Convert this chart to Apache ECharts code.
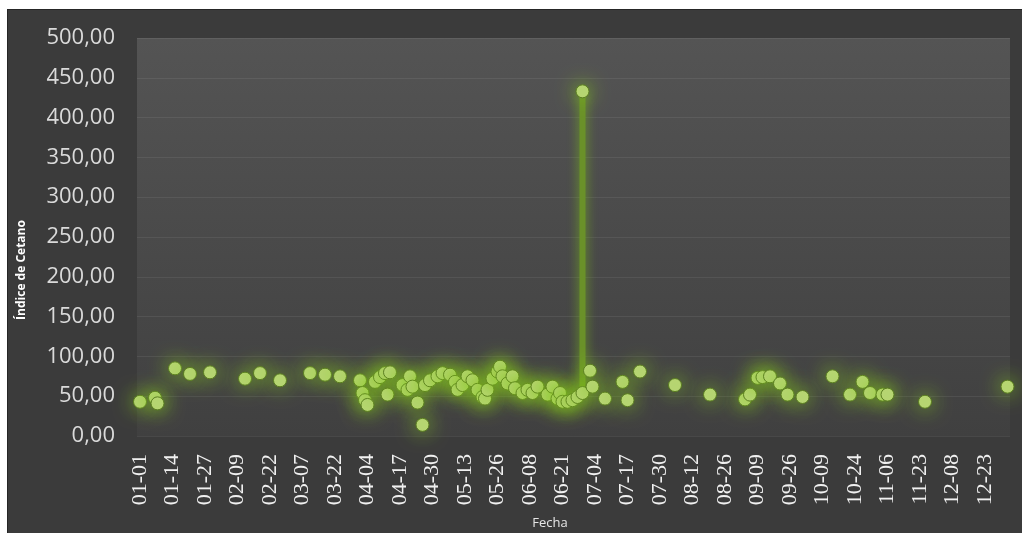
<!DOCTYPE html>
<html>
<head>
<meta charset="utf-8">
<script src="https://cdn.jsdelivr.net/npm/echarts@6/dist/echarts.min.js"></script>
<style>
  html, body { margin: 0; padding: 0; background: #ffffff; width: 1022px; height: 533px; overflow: hidden; }
  #marco {
    position: absolute; left: 7px; top: 9px; width: 1015px; height: 524px;
    box-sizing: border-box; border-top: 1px solid #262626; border-left: 1px solid #262626;
    background: #3b3b3b;
  }
  #grafico { width: 1014px; height: 523px; }
</style>
</head>
<body>
<div id="marco"><div id="grafico"></div></div>
<script>
// Etiquetas de fecha del eje X (una cada 13 muestras)
const etiquetasFecha = ['01-01','01-14','01-27','02-09','02-22','03-07','03-22','04-04','04-17','04-30',
  '05-13','05-26','06-08','06-21','07-04','07-17','07-30','08-12','08-26','09-09','09-26','10-09',
  '10-24','11-06','11-23','12-08','12-23'];
const pasoEtiqueta = 13;

// Posición de cada medición a lo largo del eje (número de muestra)
const posicion = [0,6,7,14,20,28,42,48,56,68,74,80,88,89,90,91,94,96,98,99,100,105,107,108,109,111,113,
  114,116,119,121,124,126,127,129,131,133,135,137,138,139,141,143,144,145,147,149,150,153,155,157,159,
  163,165,167,168,169,171,173,175,177,177,180,181,186,193,195,200,214,228,242,244,247,249,252,256,259,
  265,277,284,289,292,297,299,314,347];

// Índice de cetano medido
const indiceCetano = [43,48,41,85,78,80,72,79,70,79,77,75,70,54,45,39,68,74,79,52,80,64,58,75,62,42,14,
  64,70,75,79,77,68,58,64,75,70,58,49,47,58,72,81,87,75,66,75,60,54,58,54,62,
  52,62,47,54,43,43,45,49,54,433,82,62,47,68,45,81,64,52,46,52,73,74,75,66,52,
  49,75,52,68,54,52,52,43,62];

// Serie de línea: sólo se unen mediciones tomadas en la misma muestra
const serie = [];
for (let i = 0; i < posicion.length; i++) {
  if (i > 0 && posicion[i] !== posicion[i - 1]) serie.push([(posicion[i - 1] + posicion[i]) / 2, null]);
  serie.push([posicion[i], indiceCetano[i]]);
}
const marcas = etiquetasFecha.map((_, i) => i * pasoEtiqueta);

const chart = echarts.init(document.getElementById('grafico'), null, { renderer: 'canvas' });
chart.setOption({
  animation: false,
  backgroundColor: '#3b3b3b',
  grid: {
    left: 129, right: 12, top: 28, bottom: 97,
    show: true, borderWidth: 0,
    backgroundColor: new echarts.graphic.LinearGradient(0, 0, 0, 1, [
      { offset: 0, color: '#545454' },
      { offset: 1, color: '#404040' }
    ])
  },
  xAxis: {
    type: 'value', min: -1.2, max: 348,
    axisLine: { show: false }, axisTick: { show: false }, splitLine: { show: false },
    axisLabel: {
      customValues: marcas,
      rotate: 90, margin: 18,
      formatter: v => etiquetasFecha[Math.round(v / pasoEtiqueta)] || '',
      color: '#f0f0f0', fontFamily: 'Liberation Serif', fontSize: 22
    }
  },
  yAxis: {
    type: 'value', min: 0, max: 500, interval: 50,
    axisLine: { show: false }, axisTick: { show: false },
    splitLine: { lineStyle: { color: 'rgba(255,255,255,0.07)', width: 1 } },
    axisLabel: {
      margin: 22, color: '#dadada', fontFamily: 'Open Sans', fontSize: 22,
      formatter: v => v.toFixed(2).replace('.', ',')
    }
  },
  graphic: [
    { type: 'text', x: 14, y: 260, rotation: Math.PI / 2,
      style: { text: 'Índice de Cetano', fill: '#ffffff', font: 'bold 12px "Open Sans"',
        align: 'center', verticalAlign: 'middle' } },
    { type: 'text', x: 542, y: 513,
      style: { text: 'Fecha', fill: '#e6e6e6', font: '13px "Open Sans"',
        align: 'center', verticalAlign: 'middle' } }
  ],
  series: [{
    type: 'line',
    data: serie,
    connectNulls: false,
    showAllSymbol: true,
    symbol: 'circle', symbolSize: 13,
    lineStyle: { color: '#6a9129', width: 6, shadowColor: 'rgba(120,180,30,0.9)', shadowBlur: 12 },
    itemStyle: {
      color: '#b8d676', borderColor: '#5a7d20', borderWidth: 1,
      shadowColor: '#86c91e', shadowBlur: 20
    },
    emphasis: { disabled: true }
  }]
});
</script>
</body>
</html>
